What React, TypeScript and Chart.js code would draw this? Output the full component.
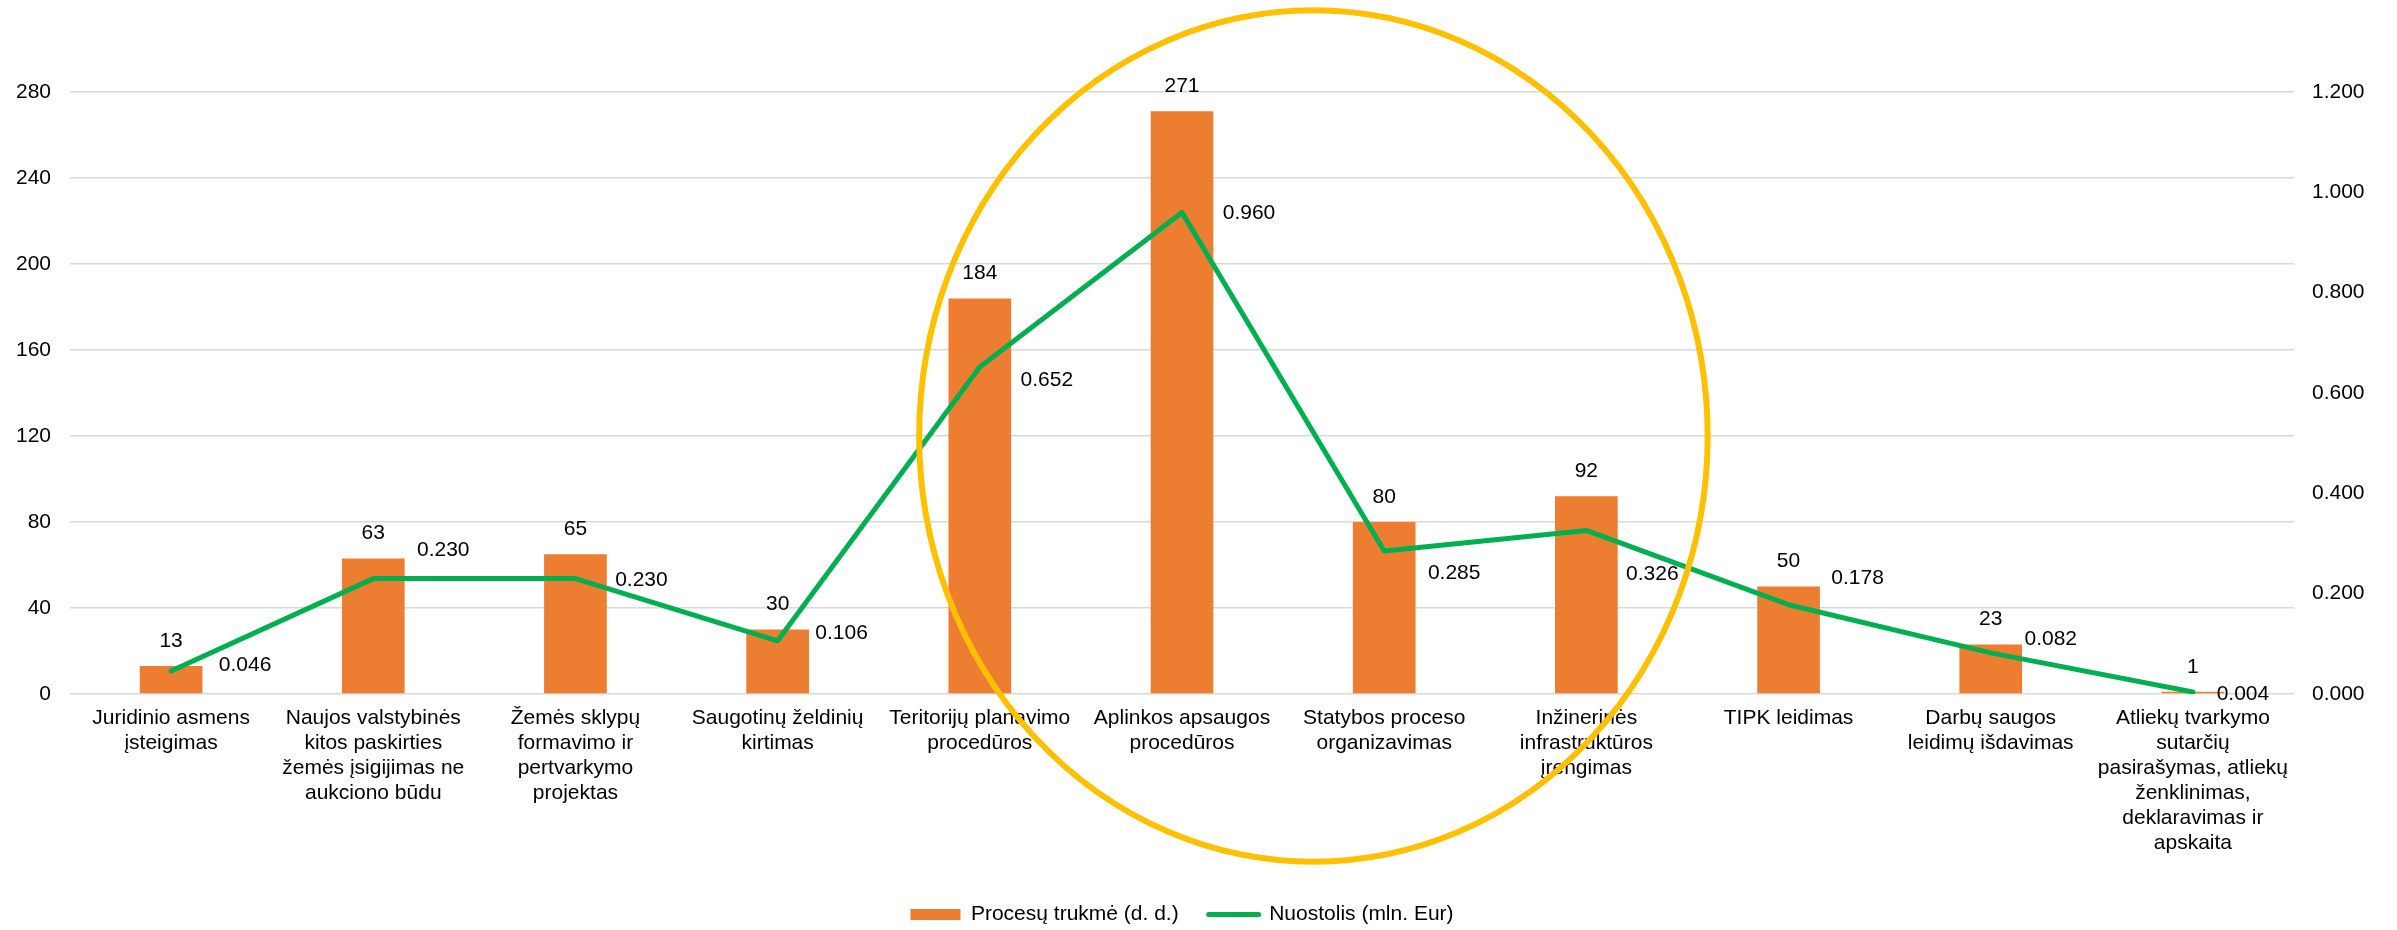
import React, { useEffect, useRef } from 'react';
import { Chart, registerables } from 'chart.js';

Chart.register(...registerables);

// ---------- data ----------
const categories: string[][] = [
  ['Juridinio asmens', 'įsteigimas'],
  ['Naujos valstybinės', 'kitos paskirties', 'žemės įsigijimas ne', 'aukciono būdu'],
  ['Žemės sklypų', 'formavimo ir', 'pertvarkymo', 'projektas'],
  ['Saugotinų želdinių', 'kirtimas'],
  ['Teritorijų planavimo', 'procedūros'],
  ['Aplinkos apsaugos', 'procedūros'],
  ['Statybos proceso', 'organizavimas'],
  ['Inžinerinės', 'infrastruktūros', 'įrengimas'],
  ['TIPK leidimas'],
  ['Darbų saugos', 'leidimų išdavimas'],
  ['Atliekų tvarkymo', 'sutarčių', 'pasirašymas, atliekų', 'ženklinimas,', 'deklaravimas ir', 'apskaita'],
];
const durationDays = [13, 63, 65, 30, 184, 271, 80, 92, 50, 23, 1];
const lossMlnEur = [0.046, 0.23, 0.23, 0.106, 0.652, 0.96, 0.285, 0.326, 0.178, 0.082, 0.004];
const seriesNames = ['Procesų trukmė (d. d.)', 'Nuostolis (mln. Eur)'];

const leftMin = 0;
const leftMax = 280;
const leftStep = 40;
const rightMin = 0;
const rightMax = 1.2;
const rightStep = 0.2;

// ---------- styles ----------
const FONT = '"Liberation Sans", Arial, sans-serif';
const BAR_COLOR = '#ED7D31';
const LINE_COLOR = '#00B050';
const RING_COLOR = '#FFC000';
// label nudges (px) for the line-value labels, relative to each point
const lineLabelNudge: [number, number][] = [
  [74, -6], [70, -28], [66, 2], [64, -8], [67, 13], [67, 1],
  [70, 22], [66, 44], [69, -27], [60, -14], [50, 2],
];

const labelsPlugin = {
  id: 'valueLabels',
  afterDatasetsDraw(chart: any) {
    const ctx = chart.ctx;
    ctx.save();
    ctx.font = `21px ${FONT}`;
    ctx.fillStyle = '#000';
    ctx.textAlign = 'center';
    ctx.textBaseline = 'middle';
    const barMeta = chart.getDatasetMeta(0);
    barMeta.data.forEach((el: any, i: number) => {
      ctx.fillText(String(durationDays[i]), el.x, el.y - 25);
    });
    const lineMeta = chart.getDatasetMeta(1);
    lineMeta.data.forEach((el: any, i: number) => {
      const [dx, dy] = lineLabelNudge[i];
      ctx.fillText(lossMlnEur[i].toFixed(3), el.x + dx, el.y + dy);
    });
    ctx.restore();
  },
  afterDraw(chart: any) {
    const ctx = chart.ctx;
    const xs = chart.scales.x;
    const ys = chart.scales.y;
    const step = xs.getPixelForValue(1) - xs.getPixelForValue(0);
    const cx = xs.getPixelForValue(5) + 0.65 * step;
    const cy = ys.getPixelForValue(120);
    const rx = 1.95 * step;
    const ry = ys.getPixelForValue(0) - ys.getPixelForValue(198);
    ctx.save();
    ctx.beginPath();
    ctx.ellipse(cx, cy, rx, ry, 0, 0, Math.PI * 2);
    ctx.strokeStyle = RING_COLOR;
    ctx.lineWidth = 6;
    ctx.stroke();
    ctx.restore();
  },
};

export default function App() {
  const canvasRef = useRef<HTMLCanvasElement | null>(null);

  useEffect(() => {
    if (!canvasRef.current) return;
    Chart.defaults.font.family = FONT;
    Chart.defaults.color = '#000';
    const chart = new Chart(canvasRef.current, {
      type: 'bar',
      data: {
        labels: categories,
        datasets: [
          {
            type: 'bar',
            label: seriesNames[0],
            data: durationDays,
            backgroundColor: BAR_COLOR,
            borderWidth: 0,
            yAxisID: 'y',
            order: 1,
            barPercentage: 0.31,
            categoryPercentage: 1,
          } as any,
          {
            type: 'line',
            label: seriesNames[1],
            data: lossMlnEur,
            borderColor: LINE_COLOR,
            backgroundColor: LINE_COLOR,
            borderWidth: 5,
            pointRadius: 0,
            tension: 0,
            borderJoinStyle: 'round',
            borderCapStyle: 'round',
            yAxisID: 'y1',
            order: 0,
          } as any,
        ],
      },
      options: {
        responsive: false,
        animation: false,
        events: [],
        layout: { padding: { top: 92, left: 0, right: 0, bottom: 0 } },
        plugins: {
          tooltip: { enabled: false },
          legend: {
            position: 'bottom',
            fullSize: false,
            maxHeight: 56,
            labels: {
              font: { size: 21, family: FONT },
              color: '#000',
              padding: 30,
              usePointStyle: true,
              pointStyleWidth: 50,
              boxHeight: 11,
              generateLabels: () => [
                {
                  text: seriesNames[0],
                  fillStyle: BAR_COLOR,
                  strokeStyle: BAR_COLOR,
                  lineWidth: 0,
                  pointStyle: 'rect',
                  hidden: false,
                  datasetIndex: 0,
                  fontColor: '#000',
                },
                {
                  text: seriesNames[1],
                  fillStyle: LINE_COLOR,
                  strokeStyle: LINE_COLOR,
                  lineWidth: 5,
                  lineCap: 'round',
                  pointStyle: 'line',
                  hidden: false,
                  datasetIndex: 1,
                  fontColor: '#000',
                },
              ] as any,
            },
          },
        },
        scales: {
          x: {
            offset: true,
            grid: { display: false, drawTicks: false },
            border: { display: false },
            ticks: {
              autoSkip: false,
              maxRotation: 0,
              minRotation: 0,
              padding: 12,
              color: '#000',
              font: { size: 21, family: FONT, lineHeight: 25 / 21 },
            },
            afterFit: (scale: any) => {
              scale.height = 180;
            },
          },
          y: {
            position: 'left',
            min: leftMin,
            max: leftMax,
            grid: { color: '#D9D9D9', lineWidth: 1.5, drawTicks: false },
            border: { display: false },
            ticks: {
              stepSize: leftStep,
              padding: 19,
              color: '#000',
              font: { size: 21, family: FONT },
            },
            afterFit: (scale: any) => {
              scale.width = 70;
            },
          },
          y1: {
            position: 'right',
            min: rightMin,
            max: rightMax,
            grid: { display: false, drawTicks: false },
            border: { display: false },
            ticks: {
              stepSize: rightStep,
              padding: 18,
              color: '#000',
              font: { size: 21, family: FONT },
              callback: (v: any) => Number(v).toFixed(3),
            },
            afterFit: (scale: any) => {
              scale.width = 103;
            },
          },
        },
      } as any,
      plugins: [labelsPlugin],
    });
    return () => chart.destroy();
  }, []);

  return (
    <div style={{ position: 'absolute', left: 0, top: 0, width: 2397, height: 930, background: '#fff' }}>
      <canvas ref={canvasRef} width={2397} height={930} style={{ display: 'block' }} />
    </div>
  );
}
